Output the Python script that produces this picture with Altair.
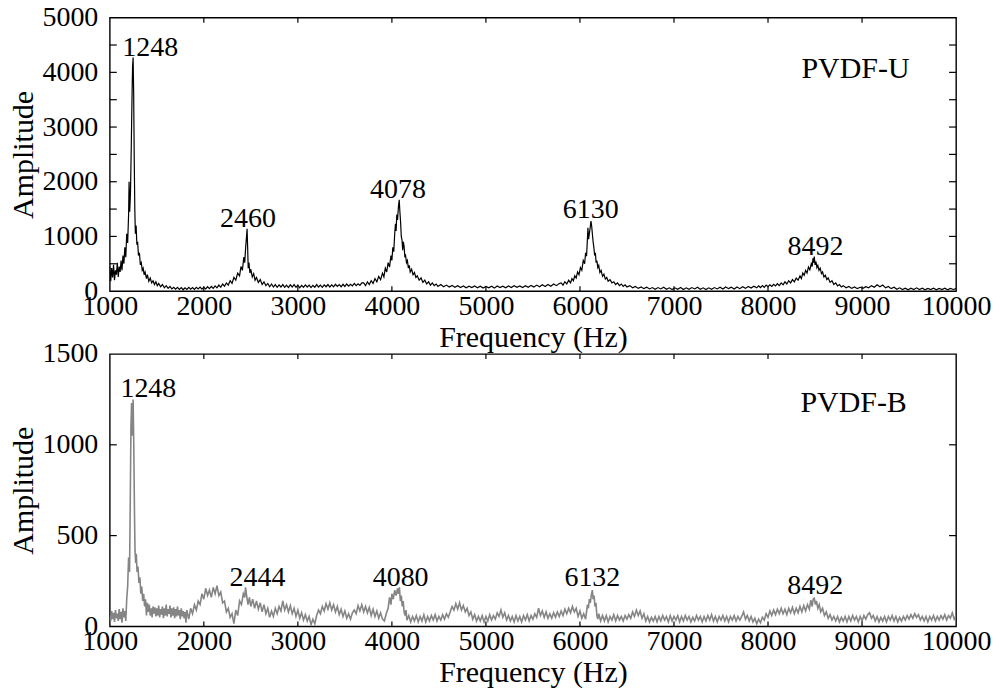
import altair as alt
import pandas as pd

FONT = "Liberation Serif, Times New Roman, Times, serif"
FS = 28
TFS = 30
W = 848
H_TOP = 274
H_BOT = 273

# ---------------- data ----------------
# PVDF-U spectrum: (frequency Hz, amplitude)
spec_u = [
    (1000, 450), (1010, 180), (1020, 420), (1030, 250), (1040, 480), (1050, 200), (1060, 380), (1070, 300),
    (1080, 520), (1090, 260), (1100, 450), (1110, 350), (1120, 560), (1130, 380), (1140, 650), (1150, 500),
    (1160, 800), (1170, 620), (1180, 1050), (1190, 880), (1200, 1400), (1205, 2000), (1212, 1450), (1220, 1800),
    (1228, 2600), (1236, 3500), (1242, 4100), (1248, 4270), (1254, 3600), (1260, 2400), (1266, 1500), (1272, 1050),
    (1280, 1200), (1288, 850), (1296, 900), (1305, 650), (1315, 700), (1325, 480), (1335, 520), (1345, 380),
    (1355, 420), (1365, 300), (1375, 350), (1390, 230), (1400, 300), (1415, 180), (1430, 240), (1445, 150),
    (1460, 190), (1475, 120), (1490, 170), (1505, 100), (1520, 140), (1540, 80), (1560, 120), (1580, 60),
    (1600, 100), (1620, 50), (1640, 85), (1660, 40), (1680, 70), (1700, 35), (1720, 70), (1740, 30),
    (1760, 65), (1780, 25), (1800, 60), (1820, 30), (1840, 70), (1860, 35), (1880, 65), (1900, 30),
    (1920, 70), (1940, 40), (1960, 75), (1980, 35), (2000, 70), (2020, 40), (2040, 80), (2060, 45),
    (2080, 85), (2100, 50), (2120, 95), (2140, 60), (2160, 110), (2180, 70), (2200, 130), (2220, 90),
    (2240, 150), (2260, 110), (2280, 190), (2300, 140), (2320, 250), (2340, 200), (2360, 330), (2380, 280),
    (2395, 450), (2410, 380), (2425, 620), (2435, 520), (2445, 800), (2452, 950), (2460, 1140), (2466, 800),
    (2472, 420), (2480, 520), (2490, 330), (2500, 400), (2515, 260), (2530, 320), (2545, 200), (2560, 250),
    (2580, 160), (2600, 210), (2620, 120), (2640, 170), (2660, 100), (2680, 140), (2700, 80), (2720, 130),
    (2740, 75), (2760, 120), (2780, 70), (2800, 115), (2820, 75), (2840, 120), (2860, 70), (2880, 110),
    (2900, 65), (2920, 115), (2940, 75), (2960, 120), (2980, 70), (3000, 110), (3020, 60), (3040, 105),
    (3060, 70), (3080, 115), (3100, 75), (3120, 110), (3140, 65), (3160, 105), (3180, 70), (3200, 120),
    (3220, 75), (3240, 110), (3260, 70), (3280, 115), (3300, 80), (3320, 120), (3340, 75), (3360, 115),
    (3380, 80), (3400, 125), (3420, 85), (3440, 120), (3460, 80), (3480, 125), (3500, 85), (3520, 130),
    (3540, 90), (3560, 125), (3580, 95), (3600, 140), (3620, 100), (3640, 135), (3660, 105), (3680, 150),
    (3700, 150), (3720, 100), (3740, 170), (3760, 120), (3780, 190), (3800, 140), (3820, 230), (3840, 170),
    (3860, 270), (3880, 210), (3900, 330), (3915, 260), (3930, 420), (3945, 350), (3960, 520), (3975, 440),
    (3990, 650), (4000, 560), (4010, 800), (4020, 720), (4030, 1050), (4038, 1230), (4045, 1100), (4052, 1400),
    (4060, 1300), (4070, 1550), (4078, 1670), (4085, 1450), (4092, 1280), (4100, 1000), (4108, 930), (4115, 750),
    (4122, 900), (4130, 820), (4138, 620), (4146, 650), (4155, 520), (4165, 560), (4175, 420), (4185, 470),
    (4195, 350), (4210, 400), (4225, 300), (4240, 340), (4255, 250), (4270, 280), (4290, 200), (4310, 240),
    (4330, 160), (4350, 200), (4370, 130), (4390, 170), (4410, 110), (4430, 150), (4450, 100), (4470, 130),
    (4490, 85), (4520, 120), (4550, 80), (4580, 110), (4610, 75), (4640, 105), (4670, 70), (4700, 100),
    (4730, 65), (4760, 95), (4790, 60), (4820, 90), (4850, 65), (4880, 95), (4910, 60), (4940, 90),
    (4970, 55), (5000, 85), (5030, 60), (5060, 90), (5090, 55), (5120, 95), (5150, 65), (5180, 90),
    (5210, 60), (5240, 95), (5270, 65), (5300, 100), (5330, 70), (5360, 95), (5390, 65), (5420, 100),
    (5450, 70), (5480, 105), (5510, 75), (5540, 110), (5570, 80), (5600, 115), (5630, 85), (5660, 120),
    (5690, 90), (5720, 130), (5750, 100), (5780, 140), (5800, 150), (5820, 110), (5840, 170), (5860, 130),
    (5880, 200), (5900, 150), (5915, 230), (5930, 190), (5945, 280), (5960, 240), (5975, 350), (5990, 300),
    (6005, 430), (6020, 380), (6035, 560), (6050, 500), (6060, 700), (6070, 640), (6078, 900), (6085, 1160),
    (6092, 950), (6100, 1050), (6108, 1150), (6117, 1280), (6124, 1200), (6132, 1050), (6140, 900), (6148, 800),
    (6156, 650), (6164, 700), (6172, 520), (6180, 560), (6190, 430), (6200, 470), (6212, 340), (6225, 380),
    (6240, 270), (6255, 310), (6270, 220), (6285, 250), (6300, 180), (6320, 210), (6340, 150), (6360, 170),
    (6380, 120), (6400, 150), (6420, 100), (6440, 130), (6460, 85), (6480, 115), (6500, 75), (6530, 100),
    (6560, 60), (6590, 85), (6620, 50), (6650, 75), (6680, 45), (6710, 70), (6740, 40), (6770, 65),
    (6800, 35), (6830, 65), (6860, 40), (6890, 70), (6920, 35), (6950, 60), (6980, 30), (7010, 60),
    (7040, 35), (7070, 65), (7100, 30), (7130, 60), (7160, 35), (7190, 65), (7220, 40), (7250, 70),
    (7280, 35), (7310, 60), (7340, 30), (7370, 60), (7400, 35), (7430, 65), (7460, 40), (7490, 70),
    (7520, 40), (7550, 75), (7580, 45), (7610, 70), (7640, 40), (7670, 75), (7700, 45), (7730, 80),
    (7760, 50), (7790, 85), (7820, 55), (7850, 90), (7880, 60), (7900, 95), (7920, 65), (7940, 100),
    (7960, 70), (7980, 110), (8000, 80), (8020, 115), (8040, 85), (8060, 125), (8080, 95), (8100, 135),
    (8120, 100), (8140, 150), (8160, 115), (8180, 170), (8200, 130), (8220, 190), (8240, 150), (8260, 210),
    (8280, 170), (8300, 240), (8320, 200), (8340, 280), (8355, 230), (8370, 330), (8385, 290), (8400, 380),
    (8415, 330), (8430, 440), (8445, 390), (8460, 500), (8470, 450), (8478, 600), (8485, 520), (8492, 630),
    (8500, 480), (8510, 540), (8520, 430), (8530, 470), (8542, 380), (8555, 420), (8568, 320), (8580, 350),
    (8595, 260), (8610, 290), (8625, 210), (8640, 240), (8660, 160), (8680, 190), (8700, 120), (8720, 150),
    (8740, 95), (8760, 120), (8780, 75), (8800, 100), (8830, 60), (8860, 85), (8890, 50), (8920, 75),
    (8950, 45), (8980, 70), (9010, 50), (9040, 80), (9070, 60), (9100, 100), (9130, 70), (9160, 115),
    (9190, 80), (9220, 110), (9250, 60), (9280, 85), (9310, 45), (9340, 70), (9370, 35), (9400, 60),
    (9430, 30), (9460, 55), (9490, 25), (9520, 55), (9550, 30), (9580, 60), (9610, 30), (9640, 55),
    (9670, 25), (9700, 50), (9730, 30), (9760, 55), (9790, 25), (9820, 50), (9850, 30), (9880, 55),
    (9910, 25), (9940, 50), (9970, 30), (10000, 45),
]

# PVDF-B spectrum: (frequency Hz, amplitude)
spec_b = [
    (1000, 60), (1010, 30), (1020, 85), (1030, 40), (1040, 75), (1050, 25), (1060, 90), (1070, 45),
    (1080, 70), (1090, 30), (1100, 95), (1110, 40), (1120, 80), (1130, 20), (1140, 100), (1150, 50),
    (1160, 85), (1170, 30), (1180, 150), (1190, 220), (1200, 380), (1210, 300), (1218, 700), (1225, 1100),
    (1232, 1230), (1240, 1050), (1248, 1250), (1255, 1000), (1262, 650), (1268, 420), (1275, 350), (1282, 400),
    (1290, 300), (1300, 330), (1310, 240), (1320, 270), (1330, 180), (1340, 220), (1350, 140), (1360, 180),
    (1370, 110), (1380, 150), (1390, 60), (1400, 130), (1410, 80), (1420, 120), (1430, 60), (1440, 100),
    (1450, 50), (1460, 110), (1470, 70), (1480, 105), (1490, 55), (1500, 100), (1510, 60), (1520, 115),
    (1530, 50), (1540, 95), (1550, 65), (1560, 110), (1570, 45), (1580, 100), (1590, 60), (1600, 120),
    (1610, 55), (1620, 95), (1630, 70), (1640, 115), (1650, 50), (1660, 100), (1670, 60), (1680, 105),
    (1690, 45), (1700, 95), (1710, 55), (1720, 110), (1730, 60), (1740, 90), (1750, 40), (1760, 100),
    (1770, 55), (1780, 85), (1790, 45), (1800, 80), (1810, 20), (1820, 90), (1840, 40), (1860, 100),
    (1880, 70), (1900, 120), (1920, 90), (1940, 140), (1960, 120), (1980, 180), (2000, 150), (2020, 210),
    (2040, 170), (2060, 200), (2080, 160), (2100, 215), (2120, 180), (2140, 225), (2160, 170), (2180, 190),
    (2200, 130), (2220, 140), (2240, 80), (2260, 100), (2280, 50), (2300, 70), (2320, 15), (2340, 90),
    (2360, 60), (2380, 140), (2400, 120), (2420, 180), (2435, 160), (2444, 215), (2455, 170), (2470, 120),
    (2485, 160), (2500, 110), (2520, 150), (2540, 100), (2560, 140), (2580, 95), (2600, 130), (2620, 80),
    (2640, 120), (2660, 70), (2680, 100), (2700, 50), (2720, 85), (2740, 55), (2760, 100), (2780, 70),
    (2800, 110), (2820, 85), (2840, 140), (2860, 90), (2880, 120), (2900, 80), (2920, 115), (2940, 70),
    (2960, 100), (2980, 55), (3000, 90), (3020, 45), (3040, 75), (3060, 35), (3080, 65), (3100, 30),
    (3120, 55), (3140, 10), (3160, 40), (3180, 15), (3200, 60), (3220, 90), (3240, 70), (3260, 110),
    (3280, 85), (3300, 125), (3320, 95), (3340, 130), (3360, 90), (3380, 120), (3400, 80), (3420, 110),
    (3440, 65), (3460, 95), (3480, 55), (3500, 85), (3520, 45), (3540, 70), (3560, 40), (3580, 75),
    (3600, 90), (3620, 70), (3640, 115), (3660, 85), (3680, 120), (3700, 80), (3720, 110), (3740, 75),
    (3760, 105), (3780, 60), (3800, 95), (3820, 55), (3840, 85), (3860, 45), (3880, 75), (3900, 40),
    (3920, 30), (3940, 70), (3960, 100), (3975, 160), (3990, 120), (4000, 180), (4015, 150), (4030, 200),
    (4045, 170), (4060, 210), (4070, 180), (4080, 215), (4090, 140), (4100, 170), (4110, 110), (4120, 140),
    (4130, 80), (4140, 60), (4150, 90), (4160, 35), (4180, 60), (4200, 25), (4220, 55), (4240, 30),
    (4260, 60), (4280, 25), (4300, 55), (4320, 30), (4340, 65), (4360, 25), (4380, 55), (4400, 30),
    (4420, 60), (4440, 35), (4460, 65), (4480, 30), (4500, 55), (4520, 35), (4540, 65), (4560, 40),
    (4580, 70), (4600, 50), (4620, 80), (4640, 110), (4660, 90), (4680, 125), (4700, 95), (4720, 130),
    (4740, 90), (4760, 115), (4780, 80), (4800, 100), (4820, 60), (4840, 80), (4860, 40), (4880, 65),
    (4900, 30), (4920, 55), (4940, 30), (4960, 60), (4980, 25), (5000, 55), (5020, 30), (5040, 65),
    (5060, 35), (5080, 60), (5100, 40), (5120, 75), (5140, 55), (5160, 90), (5180, 50), (5200, 75),
    (5220, 35), (5240, 60), (5260, 30), (5280, 55), (5300, 25), (5320, 60), (5340, 30), (5360, 55),
    (5380, 25), (5400, 60), (5420, 35), (5440, 65), (5460, 30), (5480, 60), (5500, 40), (5520, 70),
    (5540, 50), (5560, 100), (5580, 60), (5600, 85), (5620, 50), (5640, 80), (5660, 45), (5680, 70),
    (5700, 45), (5720, 75), (5740, 50), (5760, 80), (5780, 55), (5800, 85), (5820, 60), (5840, 95),
    (5860, 70), (5880, 100), (5900, 75), (5920, 110), (5940, 80), (5960, 100), (5980, 55), (6000, 85),
    (6020, 45), (6040, 70), (6060, 40), (6080, 120), (6090, 100), (6100, 150), (6110, 130), (6120, 170),
    (6132, 200), (6140, 150), (6150, 170), (6160, 110), (6170, 130), (6180, 60), (6190, 40), (6200, 70),
    (6220, 30), (6240, 60), (6260, 30), (6280, 60), (6300, 25), (6320, 55), (6340, 35), (6360, 65),
    (6380, 30), (6400, 60), (6420, 35), (6440, 55), (6460, 30), (6480, 60), (6500, 40), (6520, 65),
    (6540, 45), (6560, 80), (6580, 55), (6600, 90), (6620, 60), (6640, 85), (6660, 45), (6680, 70),
    (6700, 30), (6720, 55), (6740, 25), (6760, 50), (6780, 30), (6800, 55), (6820, 25), (6840, 55),
    (6860, 30), (6880, 60), (6900, 35), (6920, 55), (6940, 25), (6960, 60), (6980, 30), (7000, 55),
    (7020, 35), (7040, 60), (7060, 25), (7080, 55), (7100, 30), (7120, 60), (7140, 35), (7160, 55),
    (7180, 25), (7200, 50), (7220, 30), (7240, 60), (7260, 35), (7280, 55), (7300, 25), (7320, 55),
    (7340, 30), (7360, 60), (7380, 35), (7400, 65), (7420, 30), (7440, 55), (7460, 25), (7480, 55),
    (7500, 35), (7520, 60), (7540, 30), (7560, 55), (7580, 25), (7600, 55), (7620, 35), (7640, 60),
    (7660, 30), (7680, 55), (7700, 35), (7720, 55), (7740, 80), (7760, 40), (7780, 60), (7800, 30),
    (7820, 55), (7840, 25), (7860, 45), (7880, 15), (7900, 40), (7920, 20), (7940, 50), (7960, 35),
    (7980, 70), (8000, 50), (8020, 85), (8040, 60), (8060, 90), (8080, 65), (8100, 95), (8120, 70),
    (8140, 100), (8160, 70), (8180, 95), (8200, 65), (8220, 100), (8240, 75), (8260, 105), (8280, 70),
    (8300, 100), (8320, 75), (8340, 110), (8360, 80), (8380, 115), (8400, 85), (8420, 120), (8440, 95),
    (8455, 145), (8470, 110), (8480, 150), (8492, 155), (8505, 120), (8515, 140), (8530, 100), (8545, 120),
    (8560, 80), (8580, 100), (8600, 60), (8620, 80), (8640, 45), (8660, 65), (8680, 35), (8700, 55),
    (8720, 30), (8740, 55), (8760, 25), (8780, 50), (8800, 30), (8820, 55), (8840, 25), (8860, 55),
    (8880, 30), (8900, 60), (8920, 35), (8940, 55), (8960, 25), (8980, 55), (9000, 30), (9020, 60),
    (9040, 40), (9060, 65), (9080, 75), (9100, 45), (9120, 60), (9140, 30), (9160, 55), (9180, 25),
    (9200, 50), (9220, 30), (9240, 55), (9260, 25), (9280, 55), (9300, 35), (9320, 60), (9340, 30),
    (9360, 55), (9380, 25), (9400, 50), (9420, 30), (9440, 55), (9460, 35), (9480, 60), (9500, 40),
    (9520, 65), (9540, 45), (9560, 70), (9580, 50), (9600, 65), (9620, 35), (9640, 55), (9660, 30),
    (9680, 55), (9700, 25), (9720, 55), (9740, 35), (9760, 60), (9780, 30), (9800, 55), (9820, 35),
    (9840, 60), (9860, 40), (9880, 65), (9900, 35), (9920, 60), (9940, 45), (9960, 75), (9980, 40),
    (10000, 60),
]

# peak annotations (text, label frequency, label amplitude)
peak_text_u = ["1248", "2460", "4078", "6130", "8492"]
peak_freq_u = [1430, 2470, 4065, 6115, 8505]
peak_amp_u = [4280, 1160, 1690, 1320, 650]

peak_text_b = ["1248", "2444", "4080", "6132", "8492"]
peak_freq_b = [1410, 2570, 4093, 6132, 8503]
peak_amp_b = [1255, 215, 215, 215, 172]

sample_u = ("PVDF-U", 8930, 3900)
sample_b = ("PVDF-B", 8910, 1180)

x_ticks = [1000, 2000, 3000, 4000, 5000, 6000, 7000, 8000, 9000, 10000]
y_ticks_u = [0, 1000, 2000, 3000, 4000, 5000]
y_minor_u = [500, 1000, 1500, 2000, 2500, 3000, 3500, 4000, 4500]
y_ticks_b = [0, 500, 1000, 1500]
y_minor_b = [500, 1000]
x_minor = [2000, 3000, 4000, 5000, 6000, 7000, 8000, 9000]


def panel(spec, color, lw, ymax, yticks, yminor, ptext, pfreq, pamp, sample, h):
    df = pd.DataFrame(spec, columns=["f", "a"])
    xs = alt.Scale(domain=[1000, 10000], nice=False, zero=False)
    ys = alt.Scale(domain=[0, ymax], nice=False)
    xax = alt.Axis(values=x_ticks, title="Frequency (Hz)", format="d",
                   labelPadding=1, titlePadding=2, labelOverlap=False, labelFlush=False)
    yax = alt.Axis(values=yticks, title="Amplitude", format="d",
                   labelPadding=12, titlePadding=3, labelFlush=False)
    X = lambda: alt.X("f:Q", scale=xs, axis=xax, title="Frequency (Hz)")
    Y = lambda: alt.Y("a:Q", scale=ys, axis=yax, title="Amplitude")

    line = alt.Chart(df).mark_line(color=color, strokeWidth=lw, clip=True).encode(x=X(), y=Y())
    ym = pd.DataFrame({"a": yminor})
    xm = pd.DataFrame({"f": x_minor})
    tl = alt.Chart(ym).mark_rule(color="black", strokeWidth=1.2).encode(
        y=Y(), x=alt.value(0), x2=alt.value(7))
    tr = alt.Chart(ym).mark_rule(color="black", strokeWidth=1.2).encode(
        y=Y(), x=alt.value(W - 7), x2=alt.value(W))
    tb = alt.Chart(xm).mark_rule(color="black", strokeWidth=1.2).encode(
        x=X(), y=alt.value(h), y2=alt.value(h - 5))
    tt = alt.Chart(xm).mark_rule(color="black", strokeWidth=1.2).encode(
        x=X(), y=alt.value(0), y2=alt.value(5))
    pk = pd.DataFrame({"t": ptext, "f": pfreq, "a": pamp})
    txt = alt.Chart(pk).mark_text(font=FONT, fontSize=FS, color="black",
                                  baseline="alphabetic", align="center", dy=-1).encode(
        x=X(), y=Y(), text="t:N")
    sd = pd.DataFrame({"t": [sample[0]], "f": [sample[1]], "a": [sample[2]]})
    stxt = alt.Chart(sd).mark_text(font=FONT, fontSize=FS + 2, color="black",
                                   baseline="alphabetic", align="center").encode(
        x=X(), y=Y(), text="t:N")
    return alt.layer(line, tl, tr, tb, tt, txt, stxt).properties(width=W, height=h)


top = panel(spec_u, "black", 1.2, 5000, y_ticks_u, y_minor_u,
            peak_text_u, peak_freq_u, peak_amp_u, sample_u, H_TOP)
bot = panel(spec_b, "#858585", 1.6, 1500, y_ticks_b, y_minor_b,
            peak_text_b, peak_freq_b, peak_amp_b, sample_b, H_BOT)

chart = alt.vconcat(top, bot, spacing=-14).properties(
    padding={"left": 0, "top": -6, "right": 0, "bottom": 0},
    background="white",
).configure_view(
    stroke="black", strokeWidth=1.4
).configure_axis(
    domain=False, ticks=False, tickSize=0, grid=False,
    labelFont=FONT, labelFontSize=FS, labelColor="black",
    titleFont=FONT, titleFontSize=TFS, titleFontWeight="normal", titleColor="black",
)

chart.save("out.html", embed_options={"renderer": "svg", "actions": False})
